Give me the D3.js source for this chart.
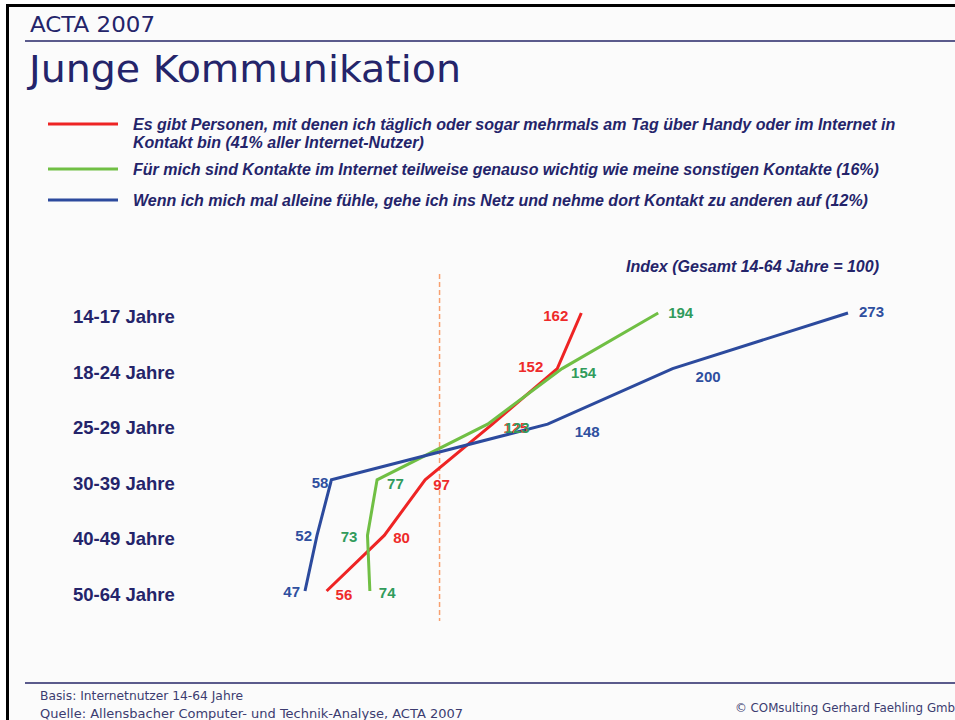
<!DOCTYPE html>
<html>
<head>
<meta charset="utf-8">
<script src="https://cdn.jsdelivr.net/npm/d3@7"></script>
<style>
  body { margin: 0; background: #fff; }
  svg { display: block; }
</style>
</head>
<body>
<div id="chart"></div>
<script>
// age groups (rows)
var ageGroups = ["14-17 Jahre", "18-24 Jahre", "25-29 Jahre", "30-39 Jahre", "40-49 Jahre", "50-64 Jahre"];

// index values per series (Gesamt 14-64 = 100)
var redValues = [162, 152, 125, 97, 80, 56];
var greenValues = [194, 154, 123, 77, 73, 74];
var blueValues = [273, 200, 148, 58, 52, 47];

var legendTexts = [
  ["Es gibt Personen, mit denen ich täglich oder sogar mehrmals am Tag über Handy oder im Internet in", "Kontakt bin (41% aller Internet-Nutzer)"],
  ["Für mich sind Kontakte im Internet teilweise genauso wichtig wie meine sonstigen Kontakte (16%)"],
  ["Wenn ich mich mal alleine fühle, gehe ich ins Netz und nehme dort Kontakt zu anderen auf (12%)"]
];

var refValue = 103;

// label placement for each value label: [dx, dy, anchor]
var redLabelPos = [[-13, 8, "end"], [-14, 3, "end"], [11, 9, "start"], [8, 10, "start"], [9, 8, "start"], [9, 9, "start"]];
var greenLabelPos = [[10, 5, "start"], [9, 9, "start"], [17, 9, "start"], [10, 9, "start"], [-10, 7, "end"], [9, 7, "start"]];
var blueLabelPos = [[11, 4, "start"], [23, 13, "start"], [27, 13, "start"], [-3, 8, "end"], [-5, 6, "end"], [-5, 6, "end"]];

var navy = "#24246a";

var series = [
  { values: redValues, line: "#ee2424", label: "#ee2a2a", pos: redLabelPos },
  { values: greenValues, line: "#70bf44", label: "#319b5c", pos: greenLabelPos },
  { values: blueValues, line: "#2c4a9d", label: "#2f4f9f", pos: blueLabelPos }
];

var width = 955;
var height = 720;

var svg = d3.select("#chart")
  .append("svg")
  .attr("width", width)
  .attr("height", height);

//slide frame
svg.append("rect")
  .attr("x", 7.5).attr("y", 5.5)
  .attr("width", 960).attr("height", 730)
  .attr("fill", "#fbfbfb")
  .attr("stroke", "#000")
  .attr("stroke-width", 3);

//header
svg.append("text")
  .attr("x", 30).attr("y", 32)
  .attr("font-family", "DejaVu Sans")
  .attr("font-size", 21)
  .attr("textLength", 125)
  .attr("lengthAdjust", "spacingAndGlyphs")
  .attr("fill", navy)
  .text("ACTA 2007");

svg.append("line")
  .attr("x1", 25).attr("x2", width)
  .attr("y1", 41).attr("y2", 41)
  .attr("stroke", "#5b5b8c")
  .attr("stroke-width", 2);

svg.append("text")
  .attr("x", 29).attr("y", 82)
  .attr("font-family", "DejaVu Sans")
  .attr("font-size", 38)
  .attr("textLength", 432)
  .attr("lengthAdjust", "spacingAndGlyphs")
  .attr("fill", navy)
  .text("Junge Kommunikation");

//legend
var legendY = [124, 169, 200];
var legend = svg.append("g");
series.forEach(function (s, i) {
  legend.append("line")
    .attr("x1", 48).attr("x2", 118)
    .attr("y1", legendY[i]).attr("y2", legendY[i])
    .attr("stroke", s.line)
    .attr("stroke-width", 3);
  legendTexts[i].forEach(function (t, j) {
    legend.append("text")
      .attr("x", 133)
      .attr("y", legendY[i] + 6 + j * 18)
      .attr("font-family", "Liberation Sans, Arial, sans-serif")
      .attr("font-size", 16)
      .attr("font-weight", "bold")
      .attr("font-style", "italic")
      .attr("fill", navy)
      .text(t);
  });
});

svg.append("text")
  .attr("x", 879).attr("y", 272)
  .attr("text-anchor", "end")
  .attr("font-family", "Liberation Sans, Arial, sans-serif")
  .attr("font-size", 16)
  .attr("font-weight", "bold")
  .attr("font-style", "italic")
  .attr("fill", navy)
  .text("Index (Gesamt 14-64 Jahre = 100)");

//scales
var x = d3.scaleLinear()
  .domain([47, 273])
  .range([305, 848]);

var y = d3.scalePoint()
  .domain(ageGroups)
  .range([313, 591]);

//row labels
svg.append("g").selectAll("text")
  .data(ageGroups)
  .enter().append("text")
  .attr("x", 73)
  .attr("y", function (d) { return y(d) + 10; })
  .attr("font-family", "Liberation Sans, Arial, sans-serif")
  .attr("font-size", 18.5)
  .attr("font-weight", "bold")
  .attr("fill", navy)
  .text(function (d) { return d; });

//reference line (index 100)
svg.append("line")
  .attr("x1", x(refValue)).attr("x2", x(refValue))
  .attr("y1", y(ageGroups[0]) - 39)
  .attr("y2", y(ageGroups[ageGroups.length - 1]) + 30)
  .attr("stroke", "#f7a070")
  .attr("stroke-width", 1.5)
  .attr("stroke-dasharray", "5,3");

var line = d3.line()
  .x(function (d) { return x(d.v); })
  .y(function (d) { return y(d.g); });

series.forEach(function (s) {
  var pts = s.values.map(function (v, i) { return { v: v, g: ageGroups[i] }; });
  svg.append("path")
    .datum(pts)
    .attr("d", line)
    .attr("fill", "none")
    .attr("stroke", s.line)
    .attr("stroke-width", 3)
    .attr("stroke-linejoin", "miter");
});

//value labels drawn after all lines
series.forEach(function (s) {
  svg.append("g").selectAll("text")
    .data(s.values)
    .enter().append("text")
    .attr("x", function (d, i) { return x(d) + s.pos[i][0]; })
    .attr("y", function (d, i) { return y(ageGroups[i]) + s.pos[i][1]; })
    .attr("text-anchor", function (d, i) { return s.pos[i][2]; })
    .attr("font-family", "Liberation Sans, Arial, sans-serif")
    .attr("font-size", 15)
    .attr("font-weight", "bold")
    .attr("fill", s.label)
    .text(function (d) { return d; });
});

//footer
svg.append("line")
  .attr("x1", 25).attr("x2", width)
  .attr("y1", 683).attr("y2", 683)
  .attr("stroke", "#5b5b8c")
  .attr("stroke-width", 2);

var footer = [
  { t: "Basis: Internetnutzer 14-64 Jahre", x: 40, y: 700, w: 203 },
  { t: "Quelle: Allensbacher Computer- und Technik-Analyse, ACTA 2007", x: 40, y: 718, w: 423 },
  { t: "© COMsulting Gerhard Faehling GmbH", x: 735, y: 712, w: 229 }
];
svg.append("g").selectAll("text")
  .data(footer)
  .enter().append("text")
  .attr("x", function (d) { return d.x; })
  .attr("y", function (d) { return d.y; })
  .attr("font-family", "DejaVu Sans")
  .attr("font-size", 12)
  .attr("textLength", function (d) { return d.w; })
  .attr("lengthAdjust", "spacingAndGlyphs")
  .attr("fill", "#3c3c70")
  .text(function (d) { return d.t; });
</script>
</body>
</html>
